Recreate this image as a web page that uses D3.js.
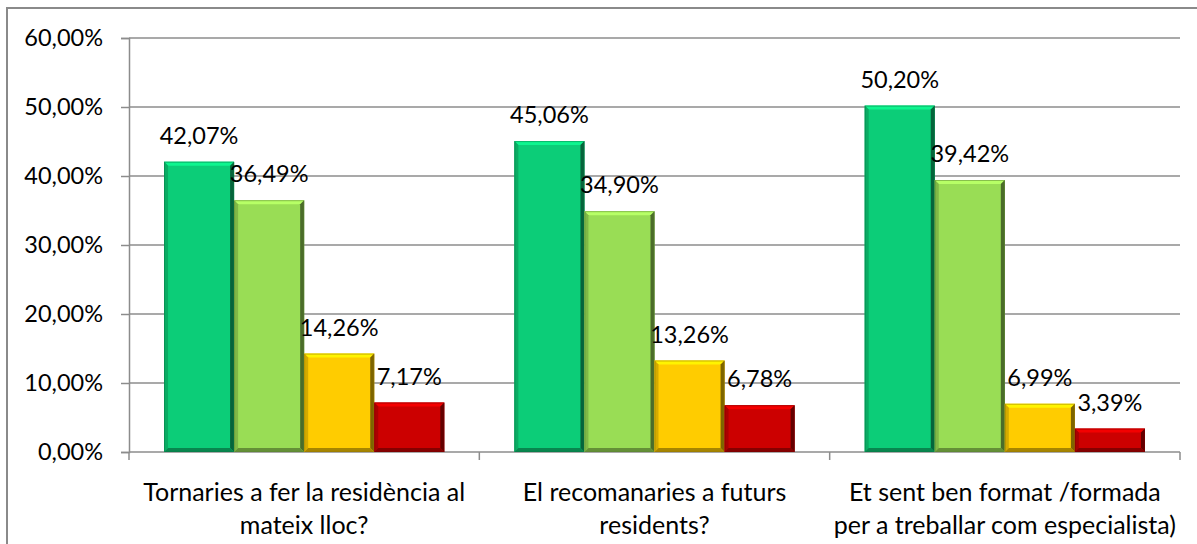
<!DOCTYPE html>
<html>
<head>
<meta charset="utf-8">
<script src="https://cdn.jsdelivr.net/npm/d3@7"></script>
<style>
  html, body { margin: 0; padding: 0; background: #fff; }
  svg { display: block; }
  text { font-family: Lato, "Open Sans", sans-serif; fill: #000; }
</style>
</head>
<body>
<svg id="chart" width="1197" height="544"></svg>
<script>
// ---- data ----
const categories = [
  "Tornaries a fer la residència al\nmateix lloc?",
  "El recomanaries a futurs\nresidents?",
  "Et sent ben format /formada\nper a treballar com especialista)"
];
const seriesNames = ["Sèrie 1", "Sèrie 2", "Sèrie 3", "Sèrie 4"];
const series1 = [0.4207, 0.4506, 0.5020];
const series2 = [0.3649, 0.3490, 0.3942];
const series3 = [0.1426, 0.1326, 0.0699];
const series4 = [0.0717, 0.0678, 0.0339];
const seriesColors = ["#0ccd78", "#99dd55", "#ffcc00", "#cc0000"];
const yTicks = [0, 0.1, 0.2, 0.3, 0.4, 0.5, 0.6];

const seriesValues = [series1, series2, series3, series4];

// ---- layout ----
const svg = d3.select("#chart");
const plot = { left: 129, right: 1180, top: 38, bottom: 452 };

const locale = d3.formatLocale({ decimal: ",", thousands: ".", grouping: [3], currency: ["", "€"] });
const pct = locale.format(".2%");

const y = d3.scaleLinear().domain([0, 0.6]).range([plot.bottom, plot.top]);
const x0 = d3.scaleBand().domain(categories).range([plot.left, plot.right]).padding(0);
const x1 = d3.scaleBand().domain(seriesNames).range([0, x0.bandwidth()]).paddingInner(0).paddingOuter(0.5);

// outer frame
svg.append("rect")
  .attr("x", 7).attr("y", 8).attr("width", 1197).attr("height", 544)
  .attr("fill", "none").attr("stroke", "#8a8a8a").attr("stroke-width", 2);

// gridlines
svg.append("g").selectAll("line").data(yTicks.filter(d => d > 0)).join("line")
  .attr("x1", plot.left).attr("x2", plot.right)
  .attr("y1", d => y(d)).attr("y2", d => y(d))
  .attr("stroke", "#8c8c8c").attr("stroke-width", 1.5);

// y axis
const yAxis = svg.append("g").attr("transform", `translate(${plot.left},0)`)
  .call(d3.axisLeft(y).tickValues(yTicks).tickFormat(pct).tickSize(8).tickPadding(18));
yAxis.select(".domain").attr("stroke", "#8c8c8c").attr("stroke-width", 1.5);
yAxis.selectAll(".tick line").attr("stroke", "#8c8c8c").attr("stroke-width", 1.5);
yAxis.selectAll("text").style("font-family", "Lato, 'Open Sans', sans-serif").style("font-size", "23.5px").attr("fill", "#000");

// x axis line + category ticks
svg.append("line")
  .attr("x1", plot.left).attr("x2", plot.right)
  .attr("y1", plot.bottom).attr("y2", plot.bottom)
  .attr("stroke", "#8c8c8c").attr("stroke-width", 1.5);
const bounds = categories.map(c => x0(c)).concat([x0(categories[categories.length - 1]) + x0.bandwidth()]);
svg.append("g").selectAll("line").data(bounds).join("line")
  .attr("x1", d => d).attr("x2", d => d)
  .attr("y1", plot.bottom).attr("y2", plot.bottom + 8)
  .attr("stroke", "#8c8c8c").attr("stroke-width", 1.5);

// category labels
const catG = svg.append("g").selectAll("text").data(categories).join("text")
  .attr("x", d => x0(d) + x0.bandwidth() / 2)
  .attr("y", 501)
  .attr("text-anchor", "middle")
  .style("font-size", "25px");
catG.selectAll("tspan").data(d => d.split("\n")).join("tspan")
  .attr("x", function() { return d3.select(this.parentNode).attr("x"); })
  .attr("dy", (d, i) => i === 0 ? 0 : 33)
  .text(d => d);

// bars with bevel
const bev = 4;
const barsData = [];
categories.forEach((c, ci) => {
  seriesNames.forEach((s, si) => {
    barsData.push({ cat: c, s, si, v: seriesValues[si][ci] });
  });
});

const barG = svg.append("g").selectAll("g").data(barsData).join("g");
barG.each(function(d) {
  const g = d3.select(this);
  const x = x0(d.cat) + x1(d.s);
  const w = x1.bandwidth();
  const yt = y(d.v);
  const h = y(0) - yt;
  const base = d3.color(seriesColors[d.si]);
  g.append("rect").attr("x", x).attr("y", yt).attr("width", w).attr("height", h)
    .attr("fill", base.formatHex());
  const b = Math.min(bev, h / 2);
  const pts = (arr) => arr.map(p => p.join(",")).join(" ");
  // top
  g.append("polygon").attr("points", pts([[x, yt], [x + w, yt], [x + w - b, yt + b], [x + b, yt + b]]))
    .attr("fill", base.brighter(0.5).formatHex());
  // left
  g.append("polygon").attr("points", pts([[x, yt], [x + b, yt + b], [x + b, yt + h - b], [x, yt + h]]))
    .attr("fill", base.darker(0.5).formatHex());
  // right
  g.append("polygon").attr("points", pts([[x + w, yt], [x + w, yt + h], [x + w - b, yt + h - b], [x + w - b, yt + b]]))
    .attr("fill", base.darker(2.0).formatHex());
  // bottom
  g.append("polygon").attr("points", pts([[x, yt + h], [x + w, yt + h], [x + w - b, yt + h - b], [x + b, yt + h - b]]))
    .attr("fill", base.darker(1.2).formatHex());
  g.append("rect").attr("x", x + 0.5).attr("y", yt + 0.5).attr("width", w - 1).attr("height", h - 1)
    .attr("fill", "none").attr("stroke", base.darker(1.5).formatHex()).attr("stroke-opacity", 0.5).attr("stroke-width", 1);
});

// value labels
svg.append("g").selectAll("text").data(barsData).join("text")
  .attr("x", d => x0(d.cat) + x1(d.s) + x1.bandwidth() / 2)
  .attr("y", d => y(d.v) - 18)
  .attr("text-anchor", "middle")
  .style("font-size", "23.5px")
  .text(d => pct(d.v));
</script>
</body>
</html>
